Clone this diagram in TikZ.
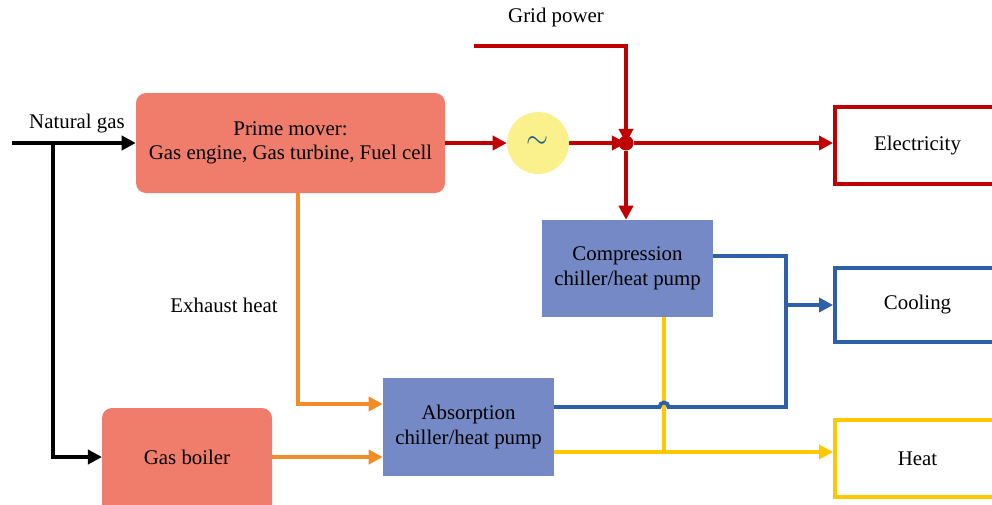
\documentclass[tikz,border=0pt]{standalone}
\usepackage{fontspec}
\usepackage{graphicx}
\setmainfont{Liberation Serif}
\usetikzlibrary{positioning,arrows.meta,calc}
\definecolor{salmon}{HTML}{F07D6B}
\definecolor{unitblue}{HTML}{7489C5}
\definecolor{elred}{HTML}{C00000}
\definecolor{coolblue}{HTML}{2E60AA}
\definecolor{heatyel}{HTML}{FFC800}
\definecolor{exhorange}{HTML}{F28C28}
\definecolor{genyel}{HTML}{FAF08C}
\definecolor{tildeteal}{HTML}{24627F}
\tikzset{
  every node/.style={font=\fontsize{17.8}{21}\selectfont},
  conv/.style={fill=salmon, rounded corners=3mm, align=center, inner sep=2pt},
  chill/.style={fill=unitblue, align=center, inner sep=2pt,
                minimum width=51.3mm},
  demand/.style={draw, line width=3.3pt, fill=white, align=center,
                 minimum width=49.5mm},
  flow/.style={line width=3.3pt, -{Triangle[length=12pt,width=12pt]}},
  pipe/.style={line width=3.3pt},
  jdot/.style={circle, fill=elred, inner sep=0pt, minimum size=4.4mm},
}
\begin{document}
\begin{tikzpicture}[x=0.3mm,y=-0.3mm]
  \useasboundingbox (0,0) rectangle (992,504);
  \clip (0,0) rectangle (992,504);
  % converters
  \node[conv, minimum width=92.7mm, minimum height=30mm] (pm) at (290.5,143)
    {Prime mover:\\Gas engine, Gas turbine, Fuel cell};
  \node[conv, minimum width=51mm, minimum height=34.2mm, text depth=24.5mm,
        text height=0pt] (boiler) at (187,465) {};
  \node (boilertxt) at (187,457) {Gas boiler};
  \node[circle, fill=genyel, minimum size=18.6mm, inner sep=0pt, text=tildeteal] (gen)
    at (538,143) {\scalebox{1.4}[1.6]{$\sim$}};
  \node[chill, minimum height=29.1mm] (comp) at (627.5,268.5) {Compression\\chiller/heat pump};
  \node[chill, minimum height=29.4mm] (abs) at (468.5,427) {Absorption\\chiller/heat pump};
  % demands
  \node[demand, draw=elred, minimum height=23.1mm] (elec) at (917.5,145.5) {Electricity};
  \node[demand, draw=coolblue, minimum height=22.2mm] (cool) at (917.5,305) {Cooling};
  \node[demand, draw=heatyel, minimum height=23.1mm] (heat) at (917.5,458.5) {Heat};
  % labels
  \node (nglbl) at (77,124) {Natural gas};
  \node (gridlbl) at (556,17) {Grid power};
  \node (exhlbl) at (224,305) {Exhaust heat};
  % natural gas
  \coordinate (ngin) at (12,143);
  \coordinate (ngsplit) at (53,143);
  \coordinate (boilerin) at (102,457);
  \coordinate (boilerout) at (272,457);
  \draw[flow] (ngin) -- (pm.west);
  \draw[flow] (ngsplit) |- (boilerin);
  % electricity
  \node[jdot] (jn) at (626,143) {};
  \coordinate (grid) at (474,46);
  \draw[flow, elred] (pm.east) -- (gen.west);
  \draw[flow, elred] (gen.east) -- (jn.center);
  \draw[flow, elred] (grid) -| (jn.center);
  \draw[flow, elred] (jn) -- (jn -| elec.west);
  \draw[flow, elred] (jn) -- (jn |- comp.north);
  \node[jdot] at (jn) {};
  % exhaust heat
  \draw[flow, exhorange] ([xshift=2.25mm]pm.south) |- ([yshift=6.9mm]abs.west);
  \draw[flow, exhorange] (boilerout) -- (abs.west |- boilerout);
  % heat
  \coordinate (hbus) at (664,452);
  \draw[flow, heatyel] ([yshift=-7.5mm]abs.east) -- (hbus) -- (hbus -| heat.west);
  \draw[pipe, heatyel] (hbus |- comp.south) -- (hbus);
  % cooling
  \coordinate (cbus) at (786,305);
  \draw[pipe, coolblue] ([yshift=3.75mm]comp.east) -| (cbus);
  \draw[pipe, coolblue] ([yshift=6mm]abs.east) -- (659.5,407)
    arc[start angle=180, end angle=0, radius=1.35mm] -- (786,407) -- (cbus);
  \draw[flow, coolblue] (cbus) -- (cool.west);
\end{tikzpicture}
\end{document}
